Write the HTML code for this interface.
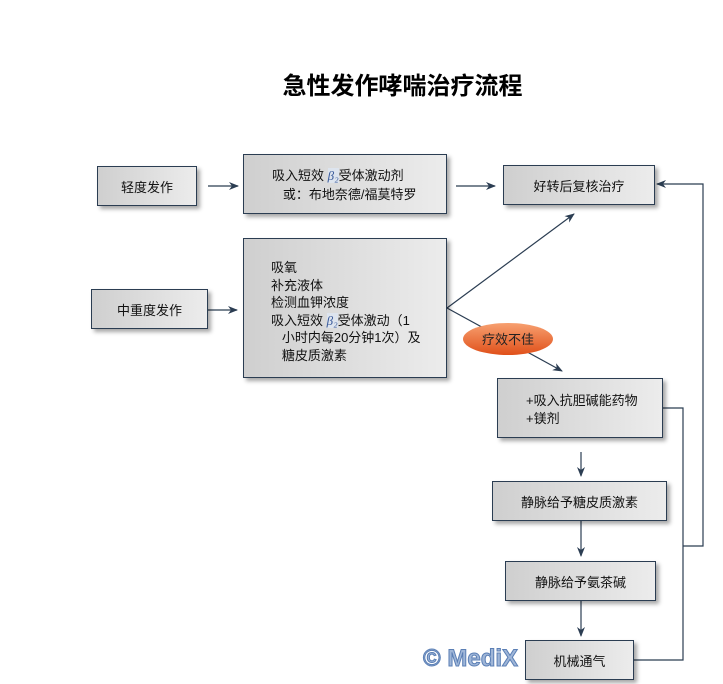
<!DOCTYPE html>
<html><head><meta charset="utf-8"><style>
body{margin:0;width:723px;height:684px;background:#fff;position:relative;overflow:hidden;font-family:"Liberation Sans","Noto Sans CJK SC",sans-serif;}
.b{position:absolute;box-sizing:border-box;border:1px solid #2b3d52;background:linear-gradient(90deg,#cfcfcf,#ececec);box-shadow:3px 3px 4px rgba(0,0,0,.35);font-size:13px;color:#111;display:flex;align-items:center;justify-content:center;}
.t{position:absolute;left:0;top:66px;width:805px;text-align:center;font-size:24px;font-weight:bold;}
.beta{font-style:italic;color:#3a5a9a;background:#dde4ee;font-family:"Liberation Serif",serif;}
</style></head><body>
<div class="t">急性发作哮喘治疗流程</div>
<svg width="723" height="684" style="position:absolute;left:0;top:0">
<defs><marker id="a" markerWidth="10" markerHeight="8" refX="9" refY="4" orient="auto" markerUnits="userSpaceOnUse"><path d="M0,0L10,4L0,8L3,4z" fill="#2b3d52"/></marker>
<linearGradient id="o" x1="0" y1="0" x2="0" y2="1"><stop offset="0" stop-color="#f7a070"/><stop offset="1" stop-color="#e0501a"/></linearGradient></defs>
<g stroke="#2b3d52" stroke-width="1.2" fill="none">
<line x1="208" y1="186" x2="238" y2="186" marker-end="url(#a)"/>
<line x1="456" y1="186" x2="495" y2="186" marker-end="url(#a)"/>
<line x1="208" y1="310" x2="237" y2="310" marker-end="url(#a)"/>
<line x1="447" y1="308" x2="574" y2="214" marker-end="url(#a)"/>
<line x1="447" y1="308" x2="562" y2="371" marker-end="url(#a)"/>
<line x1="581" y1="452" x2="581" y2="476" marker-end="url(#a)"/>
<line x1="581" y1="521" x2="581" y2="556" marker-end="url(#a)"/>
<line x1="581" y1="601" x2="581" y2="636" marker-end="url(#a)"/>
<polyline points="663,408 683,408 683,660 634,660"/>
<polyline points="683,546 703,546 703,184 657,184" marker-end="url(#a)"/>
</g>
<ellipse cx="508" cy="339" rx="45" ry="16" fill="url(#o)"/>
<text x="508" y="344" font-size="13" text-anchor="middle" fill="#222" font-family="Liberation Sans,Noto Sans CJK SC,sans-serif">疗效不佳</text>
</svg>
<div class="b" style="left:97px;top:166px;width:100px;height:40px">轻度发作</div>
<div class="b" style="left:243px;top:154px;width:204px;height:60px;display:block;padding:11px 0 0 28px;line-height:19px">吸入短效 <span class="beta">β₂</span>受体激动剂<br>&nbsp;&nbsp;&nbsp;或：布地奈德/福莫特罗</div>
<div class="b" style="left:503px;top:165px;width:152px;height:40px">好转后复核治疗</div>
<div class="b" style="left:91px;top:289px;width:117px;height:40px">中重度发作</div>
<div class="b" style="left:243px;top:238px;width:204px;height:140px;display:block;padding:20px 0 0 27px;line-height:17.5px">吸氧<br>补充液体<br>检测血钾浓度<br>吸入短效 <span class="beta">β₂</span>受体激动（1<br>&nbsp;&nbsp;&nbsp;小时内每20分钟1次）及<br>&nbsp;&nbsp;&nbsp;糖皮质激素</div>
<div class="b" style="left:497px;top:378px;width:166px;height:60px;display:block;padding:13px 0 0 28px;line-height:18px">+吸入抗胆碱能药物<br>+镁剂</div>
<div class="b" style="left:492px;top:481px;width:175px;height:40px">静脉给予糖皮质激素</div>
<div class="b" style="left:505px;top:561px;width:151px;height:40px">静脉给予氨茶碱</div>
<div class="b" style="left:525px;top:640px;width:109px;height:40px">机械通气</div>
<div style="position:absolute;left:423px;top:645px;font-size:24px;font-weight:bold;color:#9fb6d8;-webkit-text-stroke:1px #5b7fb5;font-family:'Liberation Sans',sans-serif">© MediX</div>
</body></html>
